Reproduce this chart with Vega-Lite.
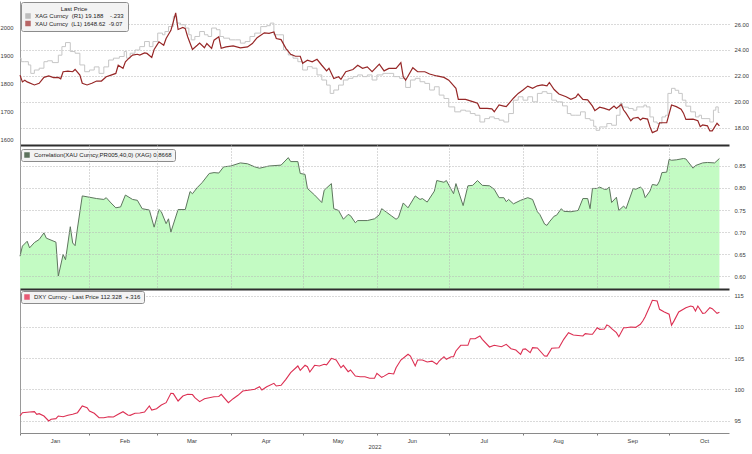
{
  "$schema": "https://vega.github.io/schema/vega-lite/v6.json",
  "background": "white",
  "padding": {"left": 0, "top": 1, "right": 0, "bottom": 0},
  "spacing": 0,
  "config": {
    "font": "Liberation Sans",
    "view": {"stroke": null},
    "axis": {"labelFontSize": 5.8, "labelColor": "#3a3a3a", "labelFont": "Liberation Sans", "titleFont": "Liberation Sans"},
    "legend": {"labelFont": "Liberation Sans", "titleFont": "Liberation Sans", "labelColor": "#222", "titleColor": "#222"}
  },
  "datasets": {
    "xau": [
      {"date":"2022-01-03","v":1830},{"date":"2022-01-04","v":1806},{"date":"2022-01-05","v":1812},{"date":"2022-01-06","v":1806},{"date":"2022-01-09","v":1795},{"date":"2022-01-11","v":1801},{"date":"2022-01-13","v":1822},{"date":"2022-01-15","v":1827},{"date":"2022-01-17","v":1821},{"date":"2022-01-19","v":1822},{"date":"2022-01-20","v":1817},{"date":"2022-01-21","v":1842},{"date":"2022-01-23","v":1844},{"date":"2022-01-25","v":1842},{"date":"2022-01-26","v":1850},{"date":"2022-01-28","v":1830},{"date":"2022-01-29","v":1801},{"date":"2022-01-31","v":1795},
      {"date":"2022-02-02","v":1801},{"date":"2022-02-04","v":1809},{"date":"2022-02-06","v":1809},{"date":"2022-02-08","v":1824},{"date":"2022-02-10","v":1830},{"date":"2022-02-12","v":1836},{"date":"2022-02-13","v":1865},{"date":"2022-02-15","v":1854},{"date":"2022-02-16","v":1877},{"date":"2022-02-17","v":1886},{"date":"2022-02-19","v":1901},{"date":"2022-02-21","v":1904},{"date":"2022-02-22","v":1901},{"date":"2022-02-24","v":1909},{"date":"2022-02-25","v":1907},{"date":"2022-02-27","v":1893},{"date":"2022-02-28","v":1921},
      {"date":"2022-03-02","v":1948},{"date":"2022-03-04","v":1936},{"date":"2022-03-05","v":1960},{"date":"2022-03-07","v":1989},{"date":"2022-03-08","v":2019},{"date":"2022-03-09","v":2051},{"date":"2022-03-10","v":1992},{"date":"2022-03-12","v":1999},{"date":"2022-03-13","v":1995},{"date":"2022-03-14","v":1966},{"date":"2022-03-16","v":1921},{"date":"2022-03-18","v":1936},{"date":"2022-03-19","v":1944},{"date":"2022-03-21","v":1927},{"date":"2022-03-22","v":1942},{"date":"2022-03-24","v":1925},{"date":"2022-03-25","v":1954},{"date":"2022-03-27","v":1966},{"date":"2022-03-28","v":1925},{"date":"2022-03-30","v":1930},
      {"date":"2022-04-02","v":1934},{"date":"2022-04-05","v":1927},{"date":"2022-04-08","v":1930},{"date":"2022-04-10","v":1942},{"date":"2022-04-12","v":1963},{"date":"2022-04-15","v":1980},{"date":"2022-04-17","v":1978},{"date":"2022-04-19","v":1983},{"date":"2022-04-20","v":1960},{"date":"2022-04-22","v":1956},{"date":"2022-04-24","v":1925},{"date":"2022-04-26","v":1904},{"date":"2022-04-28","v":1897},{"date":"2022-04-30","v":1897},
      {"date":"2022-05-01","v":1872},{"date":"2022-05-03","v":1883},{"date":"2022-05-05","v":1877},{"date":"2022-05-07","v":1886},{"date":"2022-05-09","v":1865},{"date":"2022-05-11","v":1845},{"date":"2022-05-12","v":1854},{"date":"2022-05-14","v":1818},{"date":"2022-05-16","v":1824},{"date":"2022-05-17","v":1815},{"date":"2022-05-19","v":1842},{"date":"2022-05-22","v":1850},{"date":"2022-05-24","v":1865},{"date":"2022-05-26","v":1854},{"date":"2022-05-28","v":1859},{"date":"2022-05-30","v":1842},
      {"date":"2022-06-02","v":1869},{"date":"2022-06-04","v":1845},{"date":"2022-06-06","v":1854},{"date":"2022-06-09","v":1854},{"date":"2022-06-11","v":1874},{"date":"2022-06-12","v":1824},{"date":"2022-06-13","v":1812},{"date":"2022-06-16","v":1856},{"date":"2022-06-18","v":1842},{"date":"2022-06-21","v":1842},{"date":"2022-06-23","v":1834},{"date":"2022-06-26","v":1827},{"date":"2022-06-29","v":1822},
      {"date":"2022-07-01","v":1812},{"date":"2022-07-04","v":1783},{"date":"2022-07-05","v":1744},{"date":"2022-07-08","v":1744},{"date":"2022-07-11","v":1736},{"date":"2022-07-13","v":1730},{"date":"2022-07-14","v":1712},{"date":"2022-07-17","v":1712},{"date":"2022-07-19","v":1710},{"date":"2022-07-20","v":1700},{"date":"2022-07-22","v":1724},{"date":"2022-07-24","v":1720},{"date":"2022-07-25","v":1718},{"date":"2022-07-28","v":1748},{"date":"2022-07-30","v":1765},
      {"date":"2022-08-01","v":1777},{"date":"2022-08-03","v":1791},{"date":"2022-08-05","v":1783},{"date":"2022-08-07","v":1792},{"date":"2022-08-09","v":1795},{"date":"2022-08-11","v":1792},{"date":"2022-08-12","v":1804},{"date":"2022-08-14","v":1779},{"date":"2022-08-16","v":1763},{"date":"2022-08-19","v":1753},{"date":"2022-08-21","v":1744},{"date":"2022-08-23","v":1751},{"date":"2022-08-24","v":1763},{"date":"2022-08-26","v":1744},{"date":"2022-08-28","v":1742},{"date":"2022-08-30","v":1720},{"date":"2022-08-31","v":1704},
      {"date":"2022-09-02","v":1716},{"date":"2022-09-04","v":1712},{"date":"2022-09-06","v":1706},{"date":"2022-09-08","v":1720},{"date":"2022-09-09","v":1712},{"date":"2022-09-11","v":1726},{"date":"2022-09-12","v":1706},{"date":"2022-09-13","v":1695},{"date":"2022-09-15","v":1668},{"date":"2022-09-16","v":1677},{"date":"2022-09-18","v":1680},{"date":"2022-09-19","v":1671},{"date":"2022-09-20","v":1677},{"date":"2022-09-22","v":1674},{"date":"2022-09-23","v":1647},{"date":"2022-09-24","v":1626},{"date":"2022-09-26","v":1633},{"date":"2022-09-27","v":1661},{"date":"2022-09-30","v":1661},
      {"date":"2022-10-02","v":1724},{"date":"2022-10-04","v":1718},{"date":"2022-10-06","v":1709},{"date":"2022-10-07","v":1695},{"date":"2022-10-08","v":1673},{"date":"2022-10-11","v":1674},{"date":"2022-10-13","v":1668},{"date":"2022-10-14","v":1647},{"date":"2022-10-15","v":1653},{"date":"2022-10-17","v":1650},{"date":"2022-10-18","v":1632},{"date":"2022-10-19","v":1632},{"date":"2022-10-21","v":1659},{"date":"2022-10-22","v":1650}
    ],
    "xag": [
      {"date":"2022-01-03","v":23.37},{"date":"2022-01-04","v":23.1},{"date":"2022-01-06","v":23.1},{"date":"2022-01-07","v":22.85},{"date":"2022-01-08","v":22.2},{"date":"2022-01-10","v":22.46},{"date":"2022-01-12","v":22.6},{"date":"2022-01-14","v":23.1},{"date":"2022-01-15","v":23.17},{"date":"2022-01-18","v":23.03},{"date":"2022-01-20","v":23.6},{"date":"2022-01-21","v":24.26},{"date":"2022-01-23","v":24.57},{"date":"2022-01-25","v":23.88},{"date":"2022-01-27","v":23.75},{"date":"2022-01-29","v":22.85},{"date":"2022-01-31","v":22.33},
      {"date":"2022-02-02","v":22.46},{"date":"2022-02-04","v":22.7},{"date":"2022-02-06","v":22.2},{"date":"2022-02-08","v":22.7},{"date":"2022-02-10","v":23.23},{"date":"2022-02-12","v":23.37},{"date":"2022-02-15","v":23.5},{"date":"2022-02-16","v":23.88},{"date":"2022-02-17","v":23.37},{"date":"2022-02-19","v":23.75},{"date":"2022-02-21","v":24.0},{"date":"2022-02-23","v":24.26},{"date":"2022-02-25","v":24.65},{"date":"2022-02-27","v":24.26},{"date":"2022-02-28","v":24.65},
      {"date":"2022-03-03","v":25.3},{"date":"2022-03-04","v":25.17},{"date":"2022-03-05","v":25.42},{"date":"2022-03-07","v":25.8},{"date":"2022-03-09","v":26.58},{"date":"2022-03-10","v":26.07},{"date":"2022-03-12","v":25.94},{"date":"2022-03-14","v":25.69},{"date":"2022-03-15","v":25.17},{"date":"2022-03-16","v":24.78},{"date":"2022-03-18","v":25.04},{"date":"2022-03-20","v":25.42},{"date":"2022-03-22","v":25.17},{"date":"2022-03-23","v":25.04},{"date":"2022-03-25","v":25.69},{"date":"2022-03-27","v":25.56},{"date":"2022-03-28","v":25.04},{"date":"2022-03-30","v":24.91},
      {"date":"2022-04-02","v":24.78},{"date":"2022-04-04","v":24.78},{"date":"2022-04-06","v":24.53},{"date":"2022-04-08","v":24.65},{"date":"2022-04-10","v":25.04},{"date":"2022-04-12","v":25.3},{"date":"2022-04-15","v":25.8},{"date":"2022-04-17","v":25.87},{"date":"2022-04-18","v":26.07},{"date":"2022-04-20","v":25.17},{"date":"2022-04-22","v":25.17},{"date":"2022-04-24","v":24.0},{"date":"2022-04-26","v":23.62},{"date":"2022-04-28","v":23.37},{"date":"2022-04-30","v":23.1},
      {"date":"2022-05-02","v":22.46},{"date":"2022-05-04","v":22.72},{"date":"2022-05-06","v":22.6},{"date":"2022-05-08","v":22.08},{"date":"2022-05-10","v":21.69},{"date":"2022-05-12","v":21.3},{"date":"2022-05-13","v":20.66},{"date":"2022-05-15","v":20.92},{"date":"2022-05-17","v":21.3},{"date":"2022-05-19","v":21.69},{"date":"2022-05-21","v":21.82},{"date":"2022-05-23","v":21.95},{"date":"2022-05-25","v":22.08},{"date":"2022-05-27","v":21.95},{"date":"2022-05-29","v":22.08},{"date":"2022-05-31","v":21.69},
      {"date":"2022-06-02","v":22.08},{"date":"2022-06-05","v":22.2},{"date":"2022-06-07","v":22.2},{"date":"2022-06-09","v":21.95},{"date":"2022-06-12","v":21.82},{"date":"2022-06-14","v":21.12},{"date":"2022-06-16","v":21.69},{"date":"2022-06-18","v":21.82},{"date":"2022-06-20","v":21.56},{"date":"2022-06-22","v":21.43},{"date":"2022-06-24","v":20.92},{"date":"2022-06-26","v":21.17},{"date":"2022-06-28","v":20.53},{"date":"2022-06-30","v":20.27},
      {"date":"2022-07-02","v":19.62},{"date":"2022-07-05","v":19.24},{"date":"2022-07-07","v":19.37},{"date":"2022-07-09","v":19.3},{"date":"2022-07-11","v":19.11},{"date":"2022-07-13","v":18.98},{"date":"2022-07-15","v":18.46},{"date":"2022-07-17","v":18.72},{"date":"2022-07-19","v":18.85},{"date":"2022-07-21","v":18.72},{"date":"2022-07-23","v":18.6},{"date":"2022-07-25","v":18.46},{"date":"2022-07-27","v":19.11},{"date":"2022-07-29","v":20.14},{"date":"2022-07-31","v":20.4},
      {"date":"2022-08-02","v":20.14},{"date":"2022-08-04","v":20.4},{"date":"2022-08-06","v":20.01},{"date":"2022-08-08","v":20.66},{"date":"2022-08-10","v":20.79},{"date":"2022-08-12","v":20.66},{"date":"2022-08-14","v":20.14},{"date":"2022-08-16","v":20.01},{"date":"2022-08-19","v":19.7},{"date":"2022-08-20","v":19.11},{"date":"2022-08-22","v":18.98},{"date":"2022-08-24","v":18.98},{"date":"2022-08-26","v":19.24},{"date":"2022-08-28","v":18.72},{"date":"2022-08-30","v":18.6},{"date":"2022-08-31","v":18.13},
      {"date":"2022-09-01","v":17.82},{"date":"2022-09-03","v":18.08},{"date":"2022-09-04","v":18.08},{"date":"2022-09-06","v":18.34},{"date":"2022-09-08","v":18.21},{"date":"2022-09-10","v":18.98},{"date":"2022-09-11","v":19.89},{"date":"2022-09-12","v":19.62},{"date":"2022-09-13","v":19.6},{"date":"2022-09-15","v":19.5},{"date":"2022-09-17","v":19.37},{"date":"2022-09-18","v":19.62},{"date":"2022-09-20","v":19.62},{"date":"2022-09-21","v":19.76},{"date":"2022-09-22","v":19.62},{"date":"2022-09-24","v":18.85},{"date":"2022-09-25","v":18.46},{"date":"2022-09-27","v":18.34},{"date":"2022-09-29","v":18.85},{"date":"2022-09-30","v":18.98},
      {"date":"2022-10-01","v":20.66},{"date":"2022-10-03","v":21.05},{"date":"2022-10-04","v":20.9},{"date":"2022-10-06","v":20.66},{"date":"2022-10-07","v":20.14},{"date":"2022-10-09","v":19.68},{"date":"2022-10-11","v":19.24},{"date":"2022-10-13","v":18.85},{"date":"2022-10-14","v":18.98},{"date":"2022-10-15","v":18.72},{"date":"2022-10-17","v":18.72},{"date":"2022-10-19","v":18.46},{"date":"2022-10-20","v":19.37},{"date":"2022-10-21","v":19.62},{"date":"2022-10-22","v":19.19}
    ],
    "corr": [
      {"date":"2022-01-03","v":0.645},{"date":"2022-01-04","v":0.668},{"date":"2022-01-06","v":0.679},{"date":"2022-01-07","v":0.664},{"date":"2022-01-09","v":0.676},{"date":"2022-01-11","v":0.683},{"date":"2022-01-13","v":0.698},{"date":"2022-01-14","v":0.686},{"date":"2022-01-18","v":0.677},{"date":"2022-01-19","v":0.6},{"date":"2022-01-21","v":0.649},{"date":"2022-01-22","v":0.637},{"date":"2022-01-24","v":0.712},{"date":"2022-01-25","v":0.675},{"date":"2022-01-26","v":0.669},{"date":"2022-01-27","v":0.709},{"date":"2022-01-29","v":0.782},{"date":"2022-01-31","v":0.78},
      {"date":"2022-02-04","v":0.776},{"date":"2022-02-07","v":0.774},{"date":"2022-02-08","v":0.778},{"date":"2022-02-10","v":0.766},{"date":"2022-02-12","v":0.755},{"date":"2022-02-14","v":0.757},{"date":"2022-02-16","v":0.784},{"date":"2022-02-19","v":0.774},{"date":"2022-02-21","v":0.772},{"date":"2022-02-23","v":0.753},{"date":"2022-02-26","v":0.75},{"date":"2022-02-28","v":0.711},
      {"date":"2022-03-02","v":0.751},{"date":"2022-03-03","v":0.746},{"date":"2022-03-05","v":0.719},{"date":"2022-03-06","v":0.73},{"date":"2022-03-07","v":0.7},{"date":"2022-03-10","v":0.751},{"date":"2022-03-13","v":0.751},{"date":"2022-03-15","v":0.792},{"date":"2022-03-16","v":0.787},{"date":"2022-03-18","v":0.801},{"date":"2022-03-20","v":0.812},{"date":"2022-03-23","v":0.833},{"date":"2022-03-25","v":0.835},{"date":"2022-03-27","v":0.834},{"date":"2022-03-29","v":0.848},
      {"date":"2022-04-01","v":0.85},{"date":"2022-04-05","v":0.857},{"date":"2022-04-08","v":0.855},{"date":"2022-04-11","v":0.848},{"date":"2022-04-13","v":0.845},{"date":"2022-04-17","v":0.85},{"date":"2022-04-22","v":0.852},{"date":"2022-04-25","v":0.869},{"date":"2022-04-26","v":0.86},{"date":"2022-04-29","v":0.86},{"date":"2022-04-30","v":0.833},
      {"date":"2022-05-02","v":0.831},{"date":"2022-05-03","v":0.799},{"date":"2022-05-06","v":0.784},{"date":"2022-05-09","v":0.767},{"date":"2022-05-10","v":0.795},{"date":"2022-05-13","v":0.81},{"date":"2022-05-14","v":0.753},{"date":"2022-05-16","v":0.749},{"date":"2022-05-18","v":0.729},{"date":"2022-05-20","v":0.74},{"date":"2022-05-21","v":0.737},{"date":"2022-05-23","v":0.721},{"date":"2022-05-24","v":0.726},{"date":"2022-05-28","v":0.726},{"date":"2022-05-31","v":0.73},
      {"date":"2022-06-02","v":0.739},{"date":"2022-06-03","v":0.753},{"date":"2022-06-05","v":0.745},{"date":"2022-06-07","v":0.737},{"date":"2022-06-09","v":0.729},{"date":"2022-06-10","v":0.733},{"date":"2022-06-12","v":0.766},{"date":"2022-06-14","v":0.755},{"date":"2022-06-17","v":0.782},{"date":"2022-06-19","v":0.774},{"date":"2022-06-20","v":0.776},{"date":"2022-06-22","v":0.768},{"date":"2022-06-25","v":0.793},{"date":"2022-06-26","v":0.817},{"date":"2022-06-29","v":0.813},{"date":"2022-06-30","v":0.817},
      {"date":"2022-07-03","v":0.787},{"date":"2022-07-04","v":0.81},{"date":"2022-07-07","v":0.76},{"date":"2022-07-09","v":0.805},{"date":"2022-07-11","v":0.806},{"date":"2022-07-13","v":0.817},{"date":"2022-07-15","v":0.806},{"date":"2022-07-18","v":0.805},{"date":"2022-07-20","v":0.797},{"date":"2022-07-22","v":0.778},{"date":"2022-07-24","v":0.778},{"date":"2022-07-25","v":0.769},{"date":"2022-07-26","v":0.774},{"date":"2022-07-28","v":0.764},{"date":"2022-07-31","v":0.772},
      {"date":"2022-08-03","v":0.778},{"date":"2022-08-05","v":0.774},{"date":"2022-08-07","v":0.746},{"date":"2022-08-08","v":0.74},{"date":"2022-08-10","v":0.718},{"date":"2022-08-11","v":0.715},{"date":"2022-08-12","v":0.723},{"date":"2022-08-14","v":0.736},{"date":"2022-08-15","v":0.738},{"date":"2022-08-17","v":0.753},{"date":"2022-08-18","v":0.747},{"date":"2022-08-21","v":0.746},{"date":"2022-08-24","v":0.749},{"date":"2022-08-26","v":0.776},{"date":"2022-08-28","v":0.776},{"date":"2022-08-29","v":0.753},{"date":"2022-08-30","v":0.799},
      {"date":"2022-09-01","v":0.799},{"date":"2022-09-02","v":0.802},{"date":"2022-09-04","v":0.797},{"date":"2022-09-05","v":0.797},{"date":"2022-09-06","v":0.802},{"date":"2022-09-07","v":0.767},{"date":"2022-09-09","v":0.779},{"date":"2022-09-10","v":0.749},{"date":"2022-09-12","v":0.759},{"date":"2022-09-13","v":0.753},{"date":"2022-09-16","v":0.799},{"date":"2022-09-17","v":0.797},{"date":"2022-09-19","v":0.802},{"date":"2022-09-20","v":0.797},{"date":"2022-09-21","v":0.778},{"date":"2022-09-23","v":0.793},{"date":"2022-09-24","v":0.808},{"date":"2022-09-26","v":0.806},{"date":"2022-09-27","v":0.816},{"date":"2022-09-28","v":0.835},{"date":"2022-09-30","v":0.836},
      {"date":"2022-10-01","v":0.865},{"date":"2022-10-02","v":0.863},{"date":"2022-10-04","v":0.864},{"date":"2022-10-07","v":0.867},{"date":"2022-10-08","v":0.866},{"date":"2022-10-11","v":0.845},{"date":"2022-10-12","v":0.851},{"date":"2022-10-15","v":0.857},{"date":"2022-10-17","v":0.858},{"date":"2022-10-20","v":0.857},{"date":"2022-10-22","v":0.867}
    ],
    "dxy": [
      {"date":"2022-01-03","v":95.72},{"date":"2022-01-04","v":96.25},{"date":"2022-01-07","v":96.36},{"date":"2022-01-09","v":96.41},{"date":"2022-01-10","v":95.99},{"date":"2022-01-11","v":96.09},{"date":"2022-01-13","v":95.72},{"date":"2022-01-15","v":94.92},{"date":"2022-01-16","v":95.19},{"date":"2022-01-18","v":95.3},{"date":"2022-01-19","v":95.72},{"date":"2022-01-21","v":95.6},{"date":"2022-01-23","v":95.83},{"date":"2022-01-25","v":95.99},{"date":"2022-01-27","v":96.25},{"date":"2022-01-29","v":97.32},{"date":"2022-01-31","v":97.05},
      {"date":"2022-02-01","v":96.52},{"date":"2022-02-03","v":96.15},{"date":"2022-02-05","v":95.45},{"date":"2022-02-07","v":95.45},{"date":"2022-02-09","v":95.61},{"date":"2022-02-11","v":95.55},{"date":"2022-02-13","v":95.99},{"date":"2022-02-15","v":96.41},{"date":"2022-02-17","v":95.88},{"date":"2022-02-18","v":95.83},{"date":"2022-02-20","v":96.15},{"date":"2022-02-22","v":96.2},{"date":"2022-02-24","v":96.36},{"date":"2022-02-26","v":97.32},{"date":"2022-02-27","v":96.68},
      {"date":"2022-03-01","v":96.89},{"date":"2022-03-03","v":97.48},{"date":"2022-03-05","v":97.85},{"date":"2022-03-07","v":99.35},{"date":"2022-03-08","v":99.3},{"date":"2022-03-10","v":98.12},{"date":"2022-03-12","v":98.92},{"date":"2022-03-14","v":99.19},{"date":"2022-03-16","v":99.15},{"date":"2022-03-17","v":98.65},{"date":"2022-03-19","v":98.01},{"date":"2022-03-21","v":98.49},{"date":"2022-03-23","v":98.65},{"date":"2022-03-25","v":98.81},{"date":"2022-03-27","v":98.85},{"date":"2022-03-28","v":99.19},{"date":"2022-03-31","v":97.85},
      {"date":"2022-04-02","v":98.49},{"date":"2022-04-04","v":99.03},{"date":"2022-04-06","v":99.72},{"date":"2022-04-09","v":99.88},{"date":"2022-04-11","v":100.0},{"date":"2022-04-13","v":100.41},{"date":"2022-04-14","v":99.88},{"date":"2022-04-16","v":100.41},{"date":"2022-04-19","v":100.95},{"date":"2022-04-20","v":100.52},{"date":"2022-04-22","v":100.63},{"date":"2022-04-24","v":101.59},{"date":"2022-04-26","v":102.65},{"date":"2022-04-29","v":103.72},{"date":"2022-04-30","v":103.03},
      {"date":"2022-05-02","v":103.83},{"date":"2022-05-03","v":103.6},{"date":"2022-05-04","v":102.76},{"date":"2022-05-06","v":103.83},{"date":"2022-05-08","v":103.72},{"date":"2022-05-10","v":103.99},{"date":"2022-05-11","v":103.9},{"date":"2022-05-13","v":104.95},{"date":"2022-05-15","v":104.68},{"date":"2022-05-17","v":103.45},{"date":"2022-05-18","v":103.83},{"date":"2022-05-20","v":102.81},{"date":"2022-05-21","v":103.08},{"date":"2022-05-23","v":102.12},{"date":"2022-05-25","v":102.01},{"date":"2022-05-27","v":102.01},{"date":"2022-05-29","v":101.75},{"date":"2022-05-31","v":101.75},
      {"date":"2022-06-01","v":102.55},{"date":"2022-06-03","v":101.91},{"date":"2022-06-04","v":102.1},{"date":"2022-06-06","v":102.55},{"date":"2022-06-08","v":102.45},{"date":"2022-06-09","v":103.45},{"date":"2022-06-11","v":104.68},{"date":"2022-06-14","v":105.59},{"date":"2022-06-15","v":105.3},{"date":"2022-06-17","v":103.72},{"date":"2022-06-18","v":104.68},{"date":"2022-06-20","v":104.68},{"date":"2022-06-22","v":104.36},{"date":"2022-06-24","v":104.5},{"date":"2022-06-26","v":103.99},{"date":"2022-06-27","v":104.52},{"date":"2022-06-29","v":105.21},{"date":"2022-06-30","v":104.79},
      {"date":"2022-07-02","v":105.21},{"date":"2022-07-03","v":105.21},{"date":"2022-07-04","v":106.12},{"date":"2022-07-06","v":107.03},{"date":"2022-07-08","v":107.03},{"date":"2022-07-09","v":107.03},{"date":"2022-07-10","v":108.09},{"date":"2022-07-12","v":108.09},{"date":"2022-07-14","v":108.52},{"date":"2022-07-15","v":107.99},{"date":"2022-07-18","v":106.76},{"date":"2022-07-20","v":107.03},{"date":"2022-07-23","v":106.81},{"date":"2022-07-25","v":107.19},{"date":"2022-07-27","v":106.49},{"date":"2022-07-29","v":106.28},{"date":"2022-07-31","v":105.59},
      {"date":"2022-08-01","v":106.39},{"date":"2022-08-02","v":106.45},{"date":"2022-08-04","v":105.85},{"date":"2022-08-05","v":106.65},{"date":"2022-08-07","v":106.6},{"date":"2022-08-10","v":105.32},{"date":"2022-08-11","v":105.3},{"date":"2022-08-13","v":106.55},{"date":"2022-08-16","v":106.65},{"date":"2022-08-18","v":107.99},{"date":"2022-08-20","v":109.05},{"date":"2022-08-22","v":108.68},{"date":"2022-08-24","v":108.6},{"date":"2022-08-26","v":108.52},{"date":"2022-08-27","v":108.89},{"date":"2022-08-29","v":108.8},{"date":"2022-08-30","v":108.79},
      {"date":"2022-09-01","v":109.85},{"date":"2022-09-02","v":109.59},{"date":"2022-09-04","v":109.65},{"date":"2022-09-05","v":110.28},{"date":"2022-09-06","v":110.1},{"date":"2022-09-07","v":109.69},{"date":"2022-09-09","v":109.05},{"date":"2022-09-10","v":108.41},{"date":"2022-09-12","v":109.85},{"date":"2022-09-13","v":109.85},{"date":"2022-09-15","v":109.96},{"date":"2022-09-17","v":109.9},{"date":"2022-09-19","v":110.39},{"date":"2022-09-20","v":110.92},{"date":"2022-09-21","v":111.61},{"date":"2022-09-23","v":113.32},{"date":"2022-09-24","v":114.23},{"date":"2022-09-26","v":114.12},{"date":"2022-09-27","v":112.79},{"date":"2022-09-29","v":112.36},
      {"date":"2022-10-01","v":112.0},{"date":"2022-10-02","v":110.23},{"date":"2022-10-03","v":110.9},{"date":"2022-10-05","v":112.36},{"date":"2022-10-08","v":113.05},{"date":"2022-10-10","v":113.32},{"date":"2022-10-11","v":113.2},{"date":"2022-10-12","v":112.52},{"date":"2022-10-13","v":113.32},{"date":"2022-10-15","v":112.15},{"date":"2022-10-16","v":112.2},{"date":"2022-10-18","v":113.05},{"date":"2022-10-19","v":112.9},{"date":"2022-10-21","v":112.15},{"date":"2022-10-22","v":112.33}
    ]
  },
  "resolve": {"scale": {"color": "independent"}, "legend": {"color": "independent"}},
  "vconcat": [
    {
      "width": 709,
      "height": 144,
      "layer": [
        {
          "data": {"name": "xag"},
          "mark": {"type": "line", "interpolate": "step", "color": "#c6c6c6", "strokeWidth": 1},
          "encoding": {
            "x": {"field": "date", "type": "temporal", "scale": {"domain": [{"year": 2022, "month": 1, "date": 3}, {"year": 2022, "month": 10, "date": 26}]},
              "axis": {"title": null, "labels": false, "ticks": false, "grid": false, "domainColor": "#2e2e2e", "domainWidth": 2}},
            "y": {"field": "v", "type": "quantitative", "scale": {"domain": [16.69, 27.77], "zero": false, "nice": false},
              "axis": {"orient": "right", "title": null, "values": [18, 20, 22, 24, 26], "format": ".2f", "domain": false, "ticks": false, "labelPadding": 5, "grid": true, "gridDash": [1, 2], "gridColor": "#b4b4b4"}}
          }
        },
        {
          "data": {"name": "xau"},
          "mark": {"type": "line", "color": "#962727", "strokeWidth": 1.2},
          "encoding": {
            "x": {"field": "date", "type": "temporal"},
            "y": {"field": "v", "type": "quantitative", "scale": {"domain": [1582, 2093], "zero": false, "nice": false},
              "axis": {"orient": "left", "title": null, "values": [1600, 1700, 1800, 1900, 2000], "format": "d", "domainColor": "#9a9a9a", "ticks": false, "labelPadding": 7, "grid": false, "minExtent": 20, "maxExtent": 20}}
          }
        },
        {
          "data": {"values": [{"s": "XAG Curncy\u00a0\u00a0(R1) 19.188\u00a0\u00a0\u00a0\u00a0-.233"}, {"s": "XAU Curncy\u00a0\u00a0(L1) 1648.62\u00a0\u00a0-9.07"}]},
          "transform": [{"filter": "false"}],
          "mark": {"type": "square", "filled": true},
          "encoding": {
            "color": {"field": "s", "type": "nominal",
              "scale": {"domain": ["XAG Curncy\u00a0\u00a0(R1) 19.188\u00a0\u00a0\u00a0\u00a0-.233", "XAU Curncy\u00a0\u00a0(L1) 1648.62\u00a0\u00a0-9.07"], "range": ["#a4a4a4", "#9e2a2a"]},
              "legend": {"title": "Last Price", "orient": "none", "legendX": 1, "legendY": 1, "titleAnchor": "middle", "titleAlign": "center", "titleFontSize": 6, "titleFontWeight": "normal", "titlePadding": 1, "labelFontSize": 6, "labelLimit": 300, "symbolType": "square", "symbolSize": 30, "symbolStrokeWidth": 0, "rowPadding": 1.5, "padding": 4, "fillColor": "#f3f3f3", "strokeColor": "#8c8c8c", "cornerRadius": 2}}
          }
        }
      ],
      "resolve": {"scale": {"y": "independent"}, "axis": {"y": "independent"}}
    },
    {
      "width": 709,
      "height": 144,
      "layer": [
        {
          "data": {"name": "corr"},
          "mark": {"type": "area", "color": "#c3fbc3", "clip": true},
          "encoding": {
            "x": {"field": "date", "type": "temporal", "scale": {"domain": [{"year": 2022, "month": 1, "date": 3}, {"year": 2022, "month": 10, "date": 26}]},
              "axis": {"title": null, "labels": false, "ticks": false, "domainColor": "#2e2e2e", "domainWidth": 2, "grid": true, "gridDash": [1, 2], "gridColor": "#b4b4b4", "zindex": 1,
                "values": [{"year": 2022, "month": 2, "date": 1}, {"year": 2022, "month": 3, "date": 1}, {"year": 2022, "month": 4, "date": 1}, {"year": 2022, "month": 5, "date": 1}, {"year": 2022, "month": 6, "date": 1}, {"year": 2022, "month": 7, "date": 1}, {"year": 2022, "month": 8, "date": 1}, {"year": 2022, "month": 9, "date": 1}, {"year": 2022, "month": 10, "date": 1}]}},
            "y": {"field": "v", "type": "quantitative", "scale": {"domain": [0.5705, 0.8977], "zero": false, "nice": false},
              "axis": {"orient": "left", "title": null, "labels": false, "ticks": false, "grid": false, "domainColor": "#9a9a9a"}}
          }
        },
        {
          "data": {"name": "corr"},
          "mark": {"type": "line", "color": "#5e755e", "strokeWidth": 1},
          "encoding": {
            "x": {"field": "date", "type": "temporal"},
            "y": {"field": "v", "type": "quantitative",
              "axis": {"orient": "right", "title": null, "values": [0.6, 0.65, 0.7, 0.75, 0.8, 0.85], "format": ".2f", "domain": false, "ticks": false, "labelPadding": 5, "grid": true, "gridDash": [1, 2], "gridColor": "#b4b4b4", "zindex": 1}}
          }
        },
        {
          "data": {"values": [{"s": "Correlation(XAU Curncy,PR005,40,0) (XAG) 0.8668"}]},
          "transform": [{"filter": "false"}],
          "mark": {"type": "square", "filled": true},
          "encoding": {
            "color": {"field": "s", "type": "nominal",
              "scale": {"domain": ["Correlation(XAU Curncy,PR005,40,0) (XAG) 0.8668"], "range": ["#1d3a1d"]},
              "legend": {"title": null, "orient": "none", "legendX": 1, "legendY": 4, "labelFontSize": 6, "labelLimit": 300, "symbolType": "square", "symbolSize": 30, "symbolStrokeWidth": 0, "padding": 3, "fillColor": "#f3f3f3", "strokeColor": "#8c8c8c", "cornerRadius": 2}}
          }
        }
      ],
      "resolve": {"axis": {"y": "independent"}}
    },
    {
      "width": 709,
      "height": 144,
      "layer": [
        {
          "data": {"name": "dxy"},
          "mark": {"type": "line", "color": "#dc2f52", "strokeWidth": 1.1},
          "encoding": {
            "x": {"field": "date", "type": "temporal", "scale": {"domain": [{"year": 2022, "month": 1, "date": 3}, {"year": 2022, "month": 10, "date": 26}]},
              "axis": {"title": "2022", "titleFontSize": 5.8, "titleFontWeight": "normal", "titleColor": "#3a3a3a", "titlePadding": 1, "format": "%b", "labelOffset": 35, "labelOverlap": false, "labelBound": false, "labelFlush": false, "labelPadding": 2, "tickSize": 2, "tickColor": "#777", "domainColor": "#8a8a8a", "grid": false,
                "values": [{"year": 2022, "month": 1, "date": 3}, {"year": 2022, "month": 2, "date": 1}, {"year": 2022, "month": 3, "date": 1}, {"year": 2022, "month": 4, "date": 1}, {"year": 2022, "month": 5, "date": 1}, {"year": 2022, "month": 6, "date": 1}, {"year": 2022, "month": 7, "date": 1}, {"year": 2022, "month": 8, "date": 1}, {"year": 2022, "month": 9, "date": 1}, {"year": 2022, "month": 10, "date": 1}]}},
            "y": {"field": "v", "type": "quantitative", "scale": {"domain": [93.0, 116.04], "zero": false, "nice": false},
              "axis": {"orient": "right", "title": null, "values": [95, 100, 105, 110, 115], "format": "d", "domain": false, "ticks": false, "labelPadding": 5, "grid": true, "gridDash": [1, 2], "gridColor": "#b4b4b4"}}
          }
        },
        {
          "data": {"name": "dxy"},
          "mark": {"type": "line", "opacity": 0},
          "encoding": {
            "x": {"field": "date", "type": "temporal"},
            "y": {"field": "v", "type": "quantitative",
              "axis": {"orient": "left", "title": null, "labels": false, "ticks": false, "grid": false, "domainColor": "#9a9a9a"}}
          }
        },
        {
          "data": {"values": [{"s": "DXY Curncy - Last Price 112.328\u00a0\u00a0+.316"}]},
          "transform": [{"filter": "false"}],
          "mark": {"type": "square", "filled": true},
          "encoding": {
            "color": {"field": "s", "type": "nominal",
              "scale": {"domain": ["DXY Curncy - Last Price 112.328\u00a0\u00a0+.316"], "range": ["#e3173d"]},
              "legend": {"title": null, "orient": "none", "legendX": 1, "legendY": 2, "labelFontSize": 6, "labelLimit": 300, "symbolType": "square", "symbolSize": 30, "symbolStrokeWidth": 0, "padding": 3, "fillColor": "#f3f3f3", "strokeColor": "#8c8c8c", "cornerRadius": 2}}
          }
        }
      ],
      "resolve": {"axis": {"y": "independent"}}
    }
  ]
}
